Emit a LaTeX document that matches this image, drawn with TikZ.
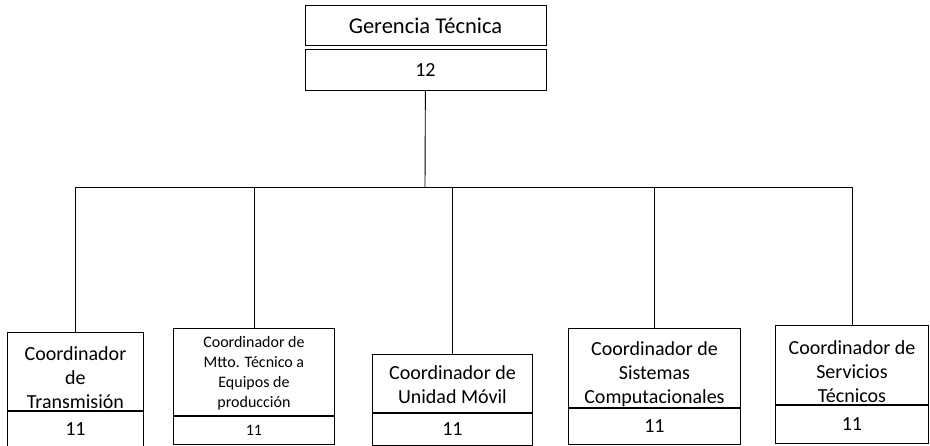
\documentclass[tikz,border=0pt]{standalone}
\usepackage{fontspec}
\setmainfont{Carlito}
\usepackage{tikz}
\usetikzlibrary{positioning}

\begin{document}
\begin{tikzpicture}[x=1pt,y=-1pt,
	cargo/.style={draw,line width=0.9pt,inner sep=0pt,align=center,anchor=north west,font=\fontsize{20}{24}\selectfont},
	plazas/.style={draw,line width=0.9pt,inner sep=0pt,font=\fontsize{20}{24}\selectfont},
	linea/.style={line width=0.9pt}]
	\useasboundingbox (0,0) rectangle (930,446);
	
	\node[cargo,minimum width=241pt,minimum height=40pt,font=\fontsize{22.5}{27}\selectfont] (gerencia) at (304.5,5) {Gerencia Técnica};
	\node[plazas,minimum width=241pt,minimum height=41pt,below=3pt of gerencia] (ngerencia) {12};
	
	\node[cargo,minimum width=136pt,text height=76pt,text depth=2pt] (transmision) at (7,332) {Coordinador\\de\\Transmisión};
	\node[plazas,minimum width=136pt,minimum height=35pt,below=0pt of transmision] (ntransmision) {11};
	
	\node[cargo,minimum width=161pt,text height=79pt,text depth=8pt,font=\fontsize{16}{20}\selectfont] (mtto) at (173,328) {Coordinador de\\Mtto. Técnico a\\Equipos de\\producción};
	\node[plazas,minimum width=161pt,minimum height=28pt,below=0pt of mtto,font=\fontsize{16}{20}\selectfont] (nmtto) {11};
	
	\node[cargo,minimum width=160pt,text height=49pt,text depth=9pt] (movil) at (372,354) {Coordinador de\\Unidad Móvil};
	\node[plazas,minimum width=160pt,minimum height=32pt,below=0pt of movil] (nmovil) {11};
	
	\node[cargo,minimum width=172pt,text height=75pt,text depth=4pt] (sistemas) at (568,328) {Coordinador de\\Sistemas\\Computacionales};
	\node[plazas,minimum width=172pt,minimum height=36pt,below=0pt of sistemas] (nsistemas) {11};
	
	\node[cargo,minimum width=153pt,text height=77pt,text depth=2pt] (servicios) at (775,325) {Coordinador de\\Servicios\\Técnicos};
	\node[plazas,minimum width=153pt,minimum height=38pt,below=0pt of servicios] (nservicios) {11};
	
	\coordinate (bus) at (425,187);
	\draw[linea] (ngerencia) -- (bus);
	\foreach \n in {transmision,mtto,movil,sistemas,servicios}
		\draw[linea] (bus) -| (\n.north);
\end{tikzpicture}
\end{document}
